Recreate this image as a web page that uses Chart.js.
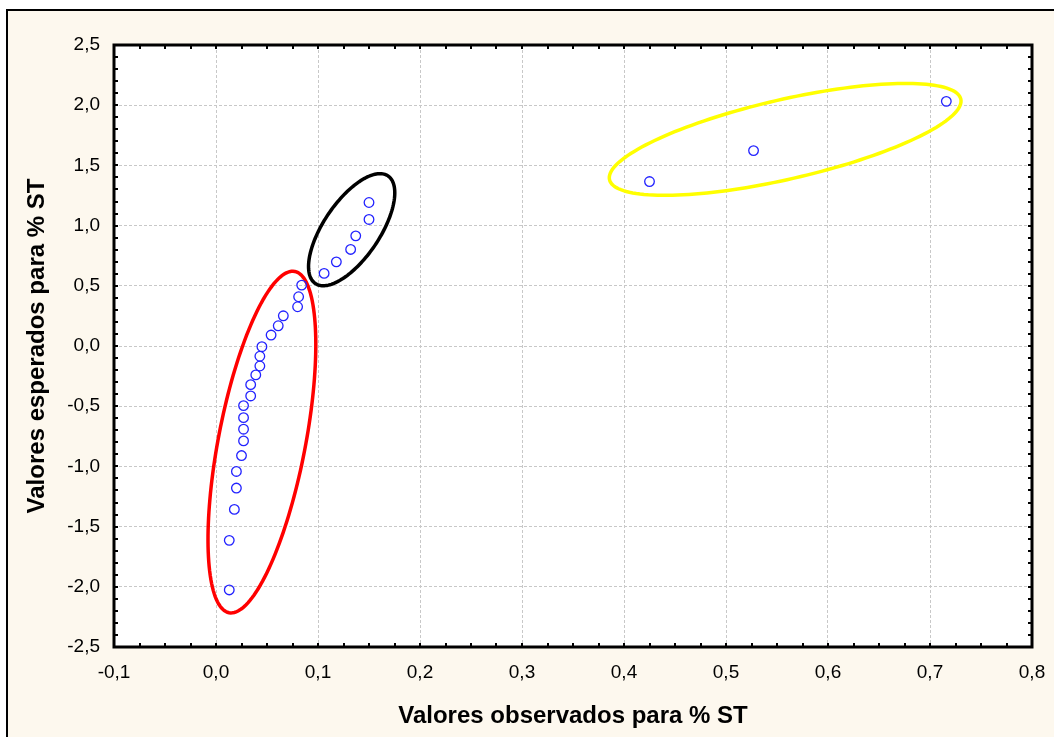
<!DOCTYPE html>
<html>
<head>
<meta charset="utf-8">
<script src="https://cdn.jsdelivr.net/npm/chart.js@4/dist/chart.umd.min.js"></script>
<style>
  html, body { margin: 0; padding: 0; background: #fff; }
  #wrap { width: 1054px; height: 737px; position: relative; }
</style>
</head>
<body>
<div id="wrap"><canvas id="scatterChart" width="1054" height="737"></canvas></div>
<script>
var xObs = [0.013, 0.013, 0.018, 0.020, 0.020, 0.025, 0.027, 0.027, 0.027, 0.027, 0.034,
            0.034, 0.039, 0.043, 0.043, 0.045, 0.054, 0.061, 0.066, 0.080, 0.081, 0.084,
            0.106, 0.118, 0.132, 0.137, 0.150, 0.150,
            0.425, 0.527, 0.716];
var yExp = [-2.026, -1.614, -1.357, -1.180, -1.042, -0.910, -0.788, -0.691, -0.595, -0.495, -0.415,
            -0.321, -0.240, -0.166, -0.085, -0.006, 0.091, 0.168, 0.251, 0.326, 0.409, 0.506,
            0.603, 0.699, 0.802, 0.915, 1.051, 1.192,
            1.366, 1.623, 2.032];
var xTicks = { min: -0.1, max: 0.8, step: 0.1 };
var yTicks = { min: -2.5, max: 2.5, step: 0.5 };

var points = xObs.map(function (x, i) { return { x: x, y: yExp[i] }; });

// groups marked on the plot, in data units (centre, half axis u, half axis v)
var groups = [
    { c: [0.045, -0.798], u: [0.0322, 1.417], v: [0.0419, -0.068], color: '#ff0000' },
    { c: [0.133, 0.966], u: [0.0356, 0.447], v: [0.0228, -0.130], color: '#000000' },
    { c: [0.558, 1.716], u: [0.1722, 0.335], v: [0.0087, -0.322], color: '#ffff00' }
];

function comma(v) { return v.toFixed(1).replace('.', ','); }

var backdrop = {
    id: 'backdrop',
    beforeDraw: function (chart) {
        var ctx = chart.ctx, a = chart.chartArea;
        ctx.save();
        ctx.fillStyle = '#ffffff';
        ctx.fillRect(0, 0, chart.width, chart.height);
        ctx.fillStyle = '#fdf8ee';
        ctx.fillRect(7, 10, chart.width, chart.height);
        ctx.strokeStyle = '#000';
        ctx.lineWidth = 2;
        ctx.strokeRect(7, 10, chart.width + 20, chart.height + 20);
        ctx.fillStyle = '#ffffff';
        ctx.fillRect(a.left, a.top, a.right - a.left, a.bottom - a.top);
        ctx.restore();
    }
};

var ellipses = {
    id: 'ellipses',
    beforeDatasetsDraw: function (chart) {
        var ctx = chart.ctx, xs = chart.scales.x, ys = chart.scales.y;
        ctx.save();
        ctx.lineWidth = 3.5;
        groups.forEach(function (g) {
            ctx.strokeStyle = g.color;
            ctx.beginPath();
            for (var i = 0; i <= 160; i++) {
                var t = i / 160 * Math.PI * 2;
                var px = xs.getPixelForValue(g.c[0] + g.u[0] * Math.cos(t) + g.v[0] * Math.sin(t));
                var py = ys.getPixelForValue(g.c[1] + g.u[1] * Math.cos(t) + g.v[1] * Math.sin(t));
                if (i === 0) ctx.moveTo(px, py); else ctx.lineTo(px, py);
            }
            ctx.closePath();
            ctx.stroke();
        });
        ctx.restore();
    }
};

var frame = {
    id: 'frame',
    afterDraw: function (chart) {
        var ctx = chart.ctx, a = chart.chartArea, xs = chart.scales.x, ys = chart.scales.y;
        ctx.save();
        ctx.strokeStyle = '#000';
        ctx.lineWidth = 2;
        ctx.beginPath();
        var i, p;
        // inward minor ticks
        for (i = 0; i <= 36; i++) {
            p = Math.round(xs.getPixelForValue(xTicks.min + i * 0.025));
            ctx.moveTo(p, a.bottom); ctx.lineTo(p, a.bottom - 4);
            ctx.moveTo(p, a.top); ctx.lineTo(p, a.top + 4);
        }
        for (i = 0; i <= 50; i++) {
            p = Math.round(ys.getPixelForValue(yTicks.min + i * 0.1));
            ctx.moveTo(a.left, p); ctx.lineTo(a.left + 4, p);
            ctx.moveTo(a.right, p); ctx.lineTo(a.right - 4, p);
        }
        ctx.stroke();
        ctx.lineWidth = 3;
        ctx.strokeRect(a.left, a.top, a.right - a.left, a.bottom - a.top);
        ctx.restore();
    }
};

var myScatter = new Chart(document.getElementById('scatterChart').getContext('2d'), {
    type: 'scatter',
    data: {
        datasets: [{
            label: '% ST',
            data: points,
            pointStyle: 'circle',
            pointRadius: 4.8,
            pointHoverRadius: 4.8,
            pointBorderWidth: 1.3,
            pointBorderColor: '#2222ff',
            pointBackgroundColor: 'rgba(0,0,0,0)'
        }]
    },
    options: {
        responsive: false,
        animation: false,
        layout: { padding: { left: 0, top: 45, right: 22, bottom: 0 } },
        plugins: { legend: { display: false }, tooltip: { enabled: false } },
        scales: {
            x: {
                type: 'linear',
                min: xTicks.min,
                max: xTicks.max,
                afterFit: function (s) { s.height = 90; s.paddingLeft = 0; s.paddingRight = 0; },
                border: { display: false, dash: [3, 2] },
                grid: { color: '#c8c8c8', lineWidth: 1, drawTicks: false },
                ticks: {
                    stepSize: xTicks.step,
                    padding: 14,
                    color: '#000',
                    font: { family: 'Liberation Sans, Arial', size: 19 },
                    callback: function (v) { return comma(v); }
                },
                title: {
                    display: true,
                    text: 'Valores observados para % ST',
                    color: '#000',
                    font: { family: 'Liberation Sans, Arial', size: 24, weight: 'bold' },
                    padding: { top: 0, bottom: 6 }
                }
            },
            y: {
                type: 'linear',
                min: yTicks.min,
                max: yTicks.max,
                afterFit: function (s) { s.width = 114; },
                border: { display: false, dash: [3, 2] },
                grid: { color: '#c8c8c8', lineWidth: 1, drawTicks: false },
                ticks: {
                    stepSize: yTicks.step,
                    padding: 14,
                    color: '#000',
                    font: { family: 'Liberation Sans, Arial', size: 19 },
                    callback: function (v) { return comma(v); }
                },
                title: {
                    display: true,
                    text: 'Valores esperados para % ST',
                    color: '#000',
                    font: { family: 'Liberation Sans, Arial', size: 24, weight: 'bold' },
                    padding: { top: 23, bottom: 0 }
                }
            }
        }
    },
    plugins: [backdrop, ellipses, frame]
});
</script>
</body>
</html>
